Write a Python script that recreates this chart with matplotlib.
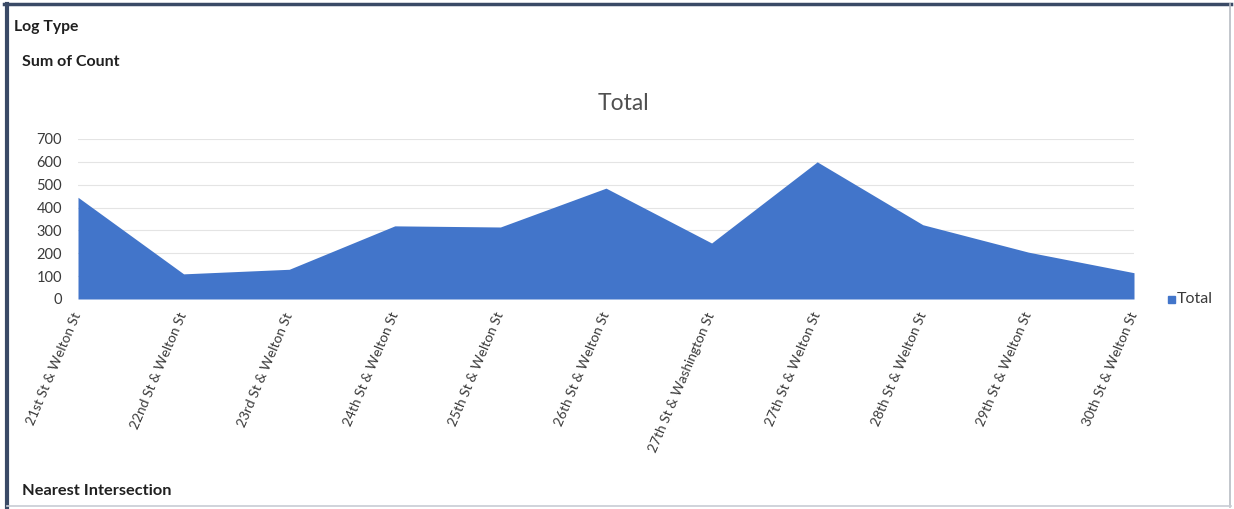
import matplotlib
matplotlib.use("Agg")
import matplotlib.pyplot as plt
from matplotlib.lines import Line2D
from matplotlib.patches import Rectangle

# data
intersections = [
    "21st St & Welton St", "22nd St & Welton St", "23rd St & Welton St",
    "24th St & Welton St", "25th St & Welton St", "26th St & Welton St",
    "27th St & Washington St", "27th St & Welton St", "28th St & Welton St",
    "29th St & Welton St", "30th St & Welton St",
]
totals = [445, 110, 130, 320, 315, 485, 245, 600, 325, 205, 115]
y_ticks = [0, 100, 200, 300, 400, 500, 600, 700]

W, H = 1234, 509
fill_color = "#4275CA"

plt.rcParams['font.family'] = ['Lato', 'DejaVu Sans']

fig = plt.figure(figsize=(W / 100, H / 100), dpi=100)
fig.patch.set_facecolor("white")

# plot area: first category at x=78, last at x=1134, y=0 at 299, 700 at 139
left, right = 78, 1134
bottom, top = 299, 139
ax = fig.add_axes([left / W, 1 - bottom / H, (right - left) / W, (bottom - top) / H])

x = list(range(len(intersections)))
ax.fill_between(x, totals, 0, color=fill_color, linewidth=0, zorder=2)

ax.set_xlim(0, len(intersections) - 1)
ax.set_ylim(0, 700)
ax.set_yticks(y_ticks)
ax.set_yticklabels([str(v) for v in y_ticks], fontsize=10.5, color="#3A3A3A")
ax.tick_params(axis='y', length=0, pad=11.5)
ax.grid(axis='y', color="#E4E4E4", linewidth=0.8, zorder=0)
ax.set_axisbelow(True)
for s in ax.spines.values():
    s.set_visible(False)

ax.set_xticks(x)
ax.set_xticklabels(intersections, rotation=67, rotation_mode='anchor',
                   ha='right', va='center', fontsize=9.9, color="#3A3A3A")
ax.tick_params(axis='x', length=0, pad=10)

# title and pivot field labels
fig.text(623 / W, 1 - 104 / H, "Total", ha='center', va='center',
         fontsize=16.5, color="#505050")
fig.text(14 / W, 1 - 27 / H, "Log Type", ha='left', va='center',
         fontsize=11.3, fontweight='bold', color="#202020")
fig.text(22 / W, 1 - 62 / H, "Sum of Count", ha='left', va='center',
         fontsize=11.5, fontweight='bold', color="#202020")
fig.text(22 / W, 1 - 491 / H, "Nearest Intersection", ha='left', va='center',
         fontsize=11.8, fontweight='bold', color="#202020")

# legend
fig.patches.append(Rectangle((1168 / W, 1 - 303 / H), 7 / W, 7 / H,
                             transform=fig.transFigure, color=fill_color))
fig.text(1177 / W, 1 - 299 / H, "Total", ha='left', va='center',
         fontsize=11.5, color="#3A3A3A")

# frame around the pivot chart
def fline(x0, y0, x1, y1, color, lw):
    fig.add_artist(Line2D([x0 / W, x1 / W], [1 - y0 / H, 1 - y1 / H],
                          transform=fig.transFigure, color=color, linewidth=lw))

fline(4, 4, 1231, 4, "#3A4A66", 2.5)
fline(7, 4, 7, 509, "#3A4A66", 3)
fline(1230, 4, 1230, 507, "#B8BCC4", 1.2)
fline(7, 506, 1231, 506, "#C8CCD4", 1.2)

fig.savefig("out.png", dpi=100, facecolor="white")
